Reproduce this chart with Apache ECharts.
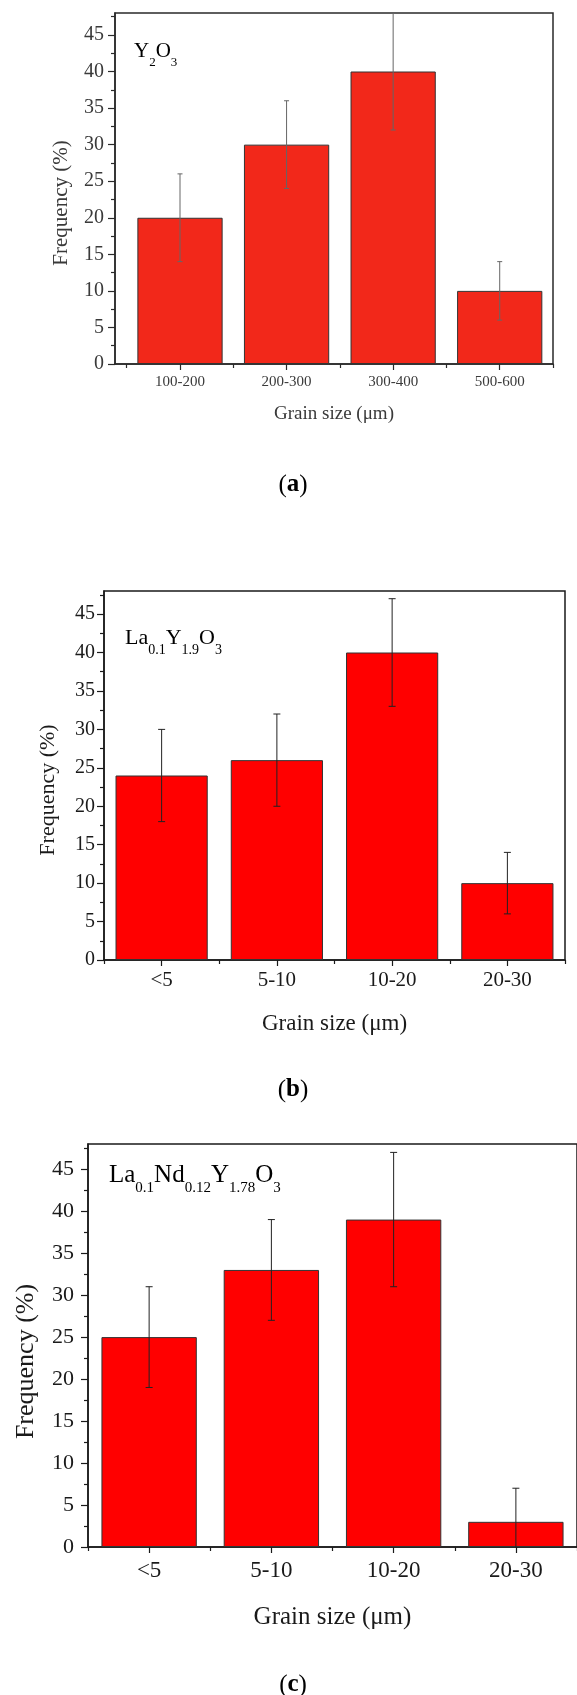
<!DOCTYPE html>
<html><head><meta charset="utf-8">
<script src="https://cdn.jsdelivr.net/npm/echarts@6/dist/echarts.min.js"></script>
<style>html,body{margin:0;padding:0;background:#fff}#c{width:577px;height:1695px}</style>
</head><body><div id="c"></div>
<script>
// ---- data ----
const catsA = ['100-200', '200-300', '300-400', '500-600'];
const valsA = [20, 30, 40, 10];
const errA = [6, 6, 8, 4];
const catsB = ['<5', '5-10', '10-20', '20-30'];
const valsB = [24, 26, 40, 10];
const errB = [6, 6, 7, 4];
const catsC = ['<5', '5-10', '10-20', '20-30'];
const valsC = [25, 33, 39, 3];
const errC = [6, 6, 8, 4];
const yTicks = [0, 5, 10, 15, 20, 25, 30, 35, 40, 45];
const yMinorTicks = [2.5, 7.5, 12.5, 17.5, 22.5, 27.5, 32.5, 37.5, 42.5, 47.5];
const yMax = 48;
const yName = 'Frequency (%)';
const xName = 'Grain size (μm)';
const formulaA = [['Y', 'n'], ['2', 's'], ['O', 'n'], ['3', 's']];
const formulaB = [['La', 'n'], ['0.1', 's'], ['Y', 'n'], ['1.9', 's'], ['O', 'n'], ['3', 's']];
const formulaC = [['La', 'n'], ['0.1', 's'], ['Nd', 'n'], ['0.12', 's'], ['Y', 'n'], ['1.78', 's'], ['O', 'n'], ['3', 's']];
const captions = ['a', 'b', 'c'];

// ---- layout / style ----
const FF = 'Liberation Serif';
const panels = [
  { cats: catsA, vals: valsA, errs: errA, formula: formulaA,
    grid: { left: 115, top: 13, width: 438, height: 351 }, xmin: 0.39, xmax: 4.5,
    bar: '#F2281A', ink: '#2a2a2a', text: '#3a3a3a', err: '#666', barW: '80%', cap: 5,
    tickFs: 20, xFs: 15, nameFs: 21, xNameFs: 19, yMargin: 11, xMargin: 11, yGap: 43, xGap: 41, namePad: 29,
    fLeft: 134, fBase: 57, fF: 21, fS: 13, capX: 293, capY: 485 },
  { cats: catsB, vals: valsB, errs: errB, formula: formulaB,
    grid: { left: 104, top: 591, width: 461, height: 369 }, xmin: 0.5, xmax: 4.5,
    bar: '#FF0000', ink: '#1a1a1a', text: '#1a1a1a', err: '#222', barW: '80%', cap: 7,
    tickFs: 20, xFs: 21, nameFs: 22, xNameFs: 23, yMargin: 9, xMargin: 10, yGap: 45, xGap: 52, namePad: 29,
    fLeft: 125, fBase: 644, fF: 22, fS: 14, capX: 293, capY: 1090 },
  { cats: catsC, vals: valsC, errs: errC, formula: formulaC,
    grid: { left: 88, top: 1144, width: 497, height: 403 }, xmin: 0.5, xmax: 4.5,
    bar: '#FF0000', ink: '#1a1a1a', text: '#1a1a1a', err: '#222', barW: '78%', cap: 7,
    tickFs: 22, xFs: 23, nameFs: 26, xNameFs: 25, yMargin: 14, xMargin: 12, yGap: 49, xGap: 58, namePad: 32,
    fLeft: 109, fBase: 1182, fF: 25, fS: 15, capX: 293, capY: 1685 }
];

const grids = [], xAxes = [], yAxes = [], series = [], graphics = [];
panels.forEach((p, i) => {
  grids.push(Object.assign({ show: true, borderColor: p.ink, borderWidth: 1.5, backgroundColor: 'transparent' }, p.grid));
  const lineSt = { color: p.ink, width: 1.5 };
  const centers = p.cats.map((c, k) => k + 1);
  const bounds = [0.5].concat(centers.map(c => c + 0.5));
  xAxes.push({
    gridIndex: i, type: 'value', min: p.xmin, max: p.xmax, position: 'bottom',
    axisLine: { show: true, onZero: false, lineStyle: lineSt },
    axisTick: { show: true, customValues: centers, length: 6, lineStyle: { color: p.ink, width: 1.2 } },
    axisLabel: { customValues: centers, formatter: v => p.cats[Math.round(v) - 1], fontFamily: FF, fontSize: p.xFs, color: p.text, margin: p.xMargin },
    splitLine: { show: false },
    name: xName, nameLocation: 'middle', nameGap: p.xGap,
    nameTextStyle: { fontFamily: FF, fontSize: p.xNameFs, color: p.text }
  });
  xAxes.push({
    gridIndex: i, type: 'value', min: p.xmin, max: p.xmax, position: 'bottom',
    axisLine: { show: false, onZero: false },
    axisTick: { show: true, customValues: bounds, length: 4, lineStyle: { color: p.ink, width: 1.2 } },
    axisLabel: { show: false }, splitLine: { show: false }
  });
  yAxes.push({
    gridIndex: i, type: 'value', min: 0, max: yMax, interval: 5, position: 'left',
    axisLine: { show: true, onZero: false, lineStyle: lineSt },
    axisTick: { show: true, customValues: yTicks, length: 7, lineStyle: { color: p.ink, width: 1.2 } },
    axisLabel: { customValues: yTicks, fontFamily: FF, fontSize: p.tickFs, color: p.text, margin: p.yMargin },
    splitLine: { show: false },
    name: yName, nameLocation: 'middle', nameRotate: 90, nameGap: p.yGap,
    nameTextStyle: { fontFamily: FF, fontSize: p.nameFs, color: p.text, padding: [0, p.namePad, 0, 0] }
  });
  yAxes.push({
    gridIndex: i, type: 'value', min: 0, max: yMax, position: 'left',
    axisLine: { show: false, onZero: false },
    axisTick: { show: true, customValues: yMinorTicks, length: 4, lineStyle: { color: p.ink, width: 1.2 } },
    axisLabel: { show: false }, splitLine: { show: false }
  });
  series.push({
    type: 'bar', xAxisIndex: 2 * i, yAxisIndex: 2 * i, barWidth: p.barW,
    data: p.vals.map((v, k) => [k + 1, v]),
    itemStyle: { color: p.bar, borderColor: '#333', borderWidth: 1 },
    emphasis: { disabled: true }, animation: false
  });
  series.push({
    type: 'custom', xAxisIndex: 2 * i, yAxisIndex: 2 * i, clip: true, z: 5,
    data: p.vals.map((v, k) => [k + 1, v - p.errs[k], v + p.errs[k]]),
    encode: { x: 0, y: [1, 2] },
    renderItem: (params, api) => {
      const x = api.value(0);
      const lo = api.coord([x, api.value(1)]);
      const hi = api.coord([x, api.value(2)]);
      const hw = p.cap / 2;
      const st = { stroke: p.err, lineWidth: 1 };
      return { type: 'group', children: [
        { type: 'line', shape: { x1: hi[0], y1: hi[1], x2: lo[0], y2: lo[1] }, style: st },
        { type: 'line', shape: { x1: hi[0] - hw, y1: hi[1], x2: hi[0] + hw, y2: hi[1] }, style: st },
        { type: 'line', shape: { x1: lo[0] - hw, y1: lo[1], x2: lo[0] + hw, y2: lo[1] }, style: st }
      ] };
    },
    animation: false
  });
  // formula label with subscripts
  const Lm = 0.76 * p.fF + 6 + p.fS / 2;
  graphics.push({
    type: 'text', x: p.fLeft, y: p.fBase - 0.76 * p.fF,
    style: {
      text: p.formula.map(t => '{' + t[1] + '|' + t[0] + '}').join(''),
      align: 'left', verticalAlign: 'top',
      rich: {
        n: { fontFamily: FF, fontSize: p.fF, color: p.text, lineHeight: Lm, verticalAlign: 'top' },
        s: { fontFamily: FF, fontSize: p.fS, color: p.text, lineHeight: p.fS, verticalAlign: 'bottom' }
      }
    }
  });
  graphics.push({
    type: 'text', x: p.capX, y: p.capY,
    style: {
      text: '{p|(}{b|' + captions[i] + '}{p|)}', align: 'center', verticalAlign: 'middle',
      rich: {
        p: { fontFamily: FF, fontSize: 25, color: '#111' },
        b: { fontFamily: FF, fontSize: 25, color: '#111', fontWeight: 'bold' }
      }
    }
  });
});

const chart = echarts.init(document.getElementById('c'), null, { renderer: 'canvas' });
chart.setOption({
  backgroundColor: '#fff', animation: false,
  grid: grids, xAxis: xAxes, yAxis: yAxes, series: series, graphic: graphics
});
</script></body></html>
